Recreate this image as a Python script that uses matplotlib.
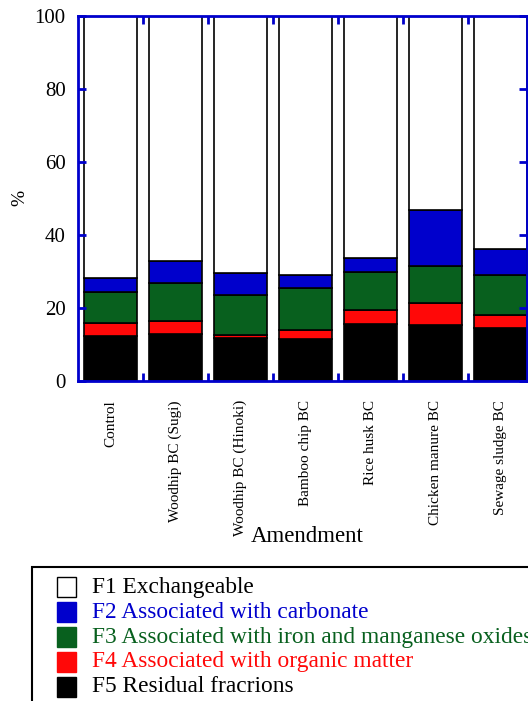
import numpy as np
import matplotlib
matplotlib.use('Agg')
import matplotlib.pyplot as plt
from matplotlib.patches import Rectangle

plt.rcParams['font.family'] = ['Liberation Serif', 'DejaVu Serif']

amendments = ['Control', 'Woodhip BC (Sugi)', 'Woodhip BC (Hinoki)', 'Bamboo chip BC',
              'Rice husk BC', 'Chicken manure BC', 'Sewage sludge BC']
# fractions in %, stacked from the bottom (F5) up to F1
f5 = [12.3, 12.9, 11.7, 11.4, 15.6, 15.2, 14.4]
f4 = [3.5, 3.4, 0.9, 2.4, 3.7, 6.2, 3.5]
f3 = [8.4, 10.6, 10.8, 11.5, 10.6, 10.1, 11.0]
f2 = [3.9, 5.8, 6.0, 3.6, 3.6, 15.2, 7.2]
f1 = [71.9, 67.3, 70.6, 71.1, 66.5, 53.3, 63.9]

names = ['F1 Exchangeable', 'F2 Associated with carbonate',
         'F3 Associated with iron and manganese oxides',
         'F4 Associated with organic matter', 'F5 Residual fracrions']
fills = ['white', '#0000cc', '#08601e', '#ff0808', 'black']
txtcol = ['black', '#0000cc', '#08601e', '#ff0808', 'black']
frame = '#0000cc'

W, H = 528, 701
fig = plt.figure(figsize=(W / 100, H / 100), dpi=100)
ax = fig.add_axes([78 / W, 1 - 380.7 / H, 449 / W, 365 / H])

x = np.arange(len(amendments))
stack = [f5, f4, f3, f2, f1]
cols = fills[::-1]
bottom = np.zeros(len(x))
for vals, c in zip(stack, cols):
    ax.bar(x, vals, width=0.815, bottom=bottom, color=c, edgecolor='black', linewidth=1.2)
    bottom += np.array(vals)

ax.set_xlim(-0.5, 6.405)
ax.set_ylim(0, 100)
ax.set_yticks([0, 20, 40, 60, 80, 100])
ax.set_xticks(x)
ax.set_xticklabels(amendments, rotation=90, va='top', ha='center', fontsize=11)
ax.set_xticks(x[:-1] + 0.5, minor=True)
ax.tick_params(axis='x', which='major', length=0, pad=14)
ax.tick_params(axis='x', which='minor', direction='in', length=6, width=2,
               color=frame, top=True, bottom=True)
ax.tick_params(axis='y', direction='in', length=6, width=2, color=frame,
               left=True, right=True, labelsize=15, pad=9)
for s in ax.spines.values():
    s.set_color(frame)
    s.set_linewidth(2)

ax.set_ylabel('%', fontsize=14)
ax.yaxis.label.set_va('center')
ax.yaxis.set_label_coords(-0.129, 0.5)
ax.set_xlabel('Amendment', fontsize=16.5)
ax.xaxis.label.set_va('center')
ax.xaxis.set_label_coords(0.51, -0.428)

# key box below the plot
fig.patches.append(Rectangle((32 / W, -0.1), 1.0, 1 - 567 / H + 0.1, transform=fig.transFigure,
                             facecolor='none', edgecolor='black', linewidth=1.5))
for i, (n, fc, tc) in enumerate(zip(names, fills, txtcol)):
    yc = 587 + 25 * i
    fig.patches.append(Rectangle((57 / W, 1 - (yc + 10) / H), 19 / W, 20 / H,
                                 transform=fig.transFigure, facecolor=fc,
                                 edgecolor='black' if fc == 'white' else fc, linewidth=1))
    fig.text(92 / W, 1 - yc / H, n, color=tc, fontsize=16.8, va='center', ha='left')

fig.savefig('out.png', dpi=100)
